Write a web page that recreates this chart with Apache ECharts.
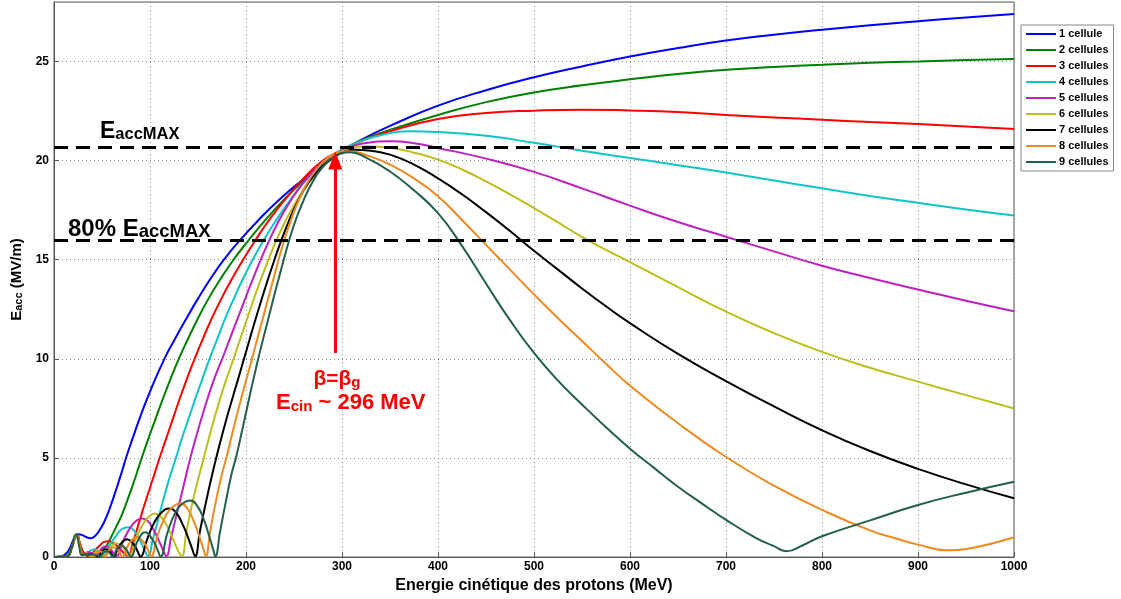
<!DOCTYPE html>
<html><head><meta charset="utf-8">
<script src="https://cdn.jsdelivr.net/npm/echarts@6/dist/echarts.min.js"></script>
<style>html,body{margin:0;padding:0;background:#fff}#c{width:1121px;height:599px}</style>
</head><body><div id="c"></div>
<script>
const seriesNames = ['1 cellule','2 cellules','3 cellules','4 cellules','5 cellules','6 cellules','7 cellules','8 cellules','9 cellules'];
const seriesColors = ['#0000ff','#008000','#ff0000','#10c4c4','#c020c0','#bebe1a','#000000','#ee8a1f','#23604a'];

const cell1 = [[0,0],[8,0.05],[13,0.2],[17,0.5],[21,0.95],[25,1.15],[29,1.12],[33,1.02],[38,0.95],[43,1.08],[48,1.4],[53,1.85],[58,2.45],[64,3.3],[70,4.2],[75,5.0],[82,6.0],[90,7.1],[100,8.35],[115,10],[126,11],[137.5,12],[149.5,13],[162.5,14],[177,15],[194,16],[213,17],[234,18],[258,19],[284,20],[296,20.4],[320,21.05],[350,21.75],[400,22.77],[450,23.55],[500,24.2],[550,24.75],[600,25.25],[650,25.68],[700,26.06],[750,26.35],[800,26.6],[850,26.83],[900,27.03],[950,27.22],[1000,27.4]];
const cell2 = [[0,0],[12,0.05],[17,0.35],[20,0.75],[23,1.1],[26,0.8],[30,0.3],[34,0.12],[40,0.12],[46,0.2],[50,0.35],[55,0.6],[60,1.05],[65,1.55],[70,2.05],[74,2.55],[80,3.35],[85,4.05],[91,4.95],[98.5,6],[106,7],[113.5,8],[121.5,9],[130,10],[139.5,11],[149.5,12],[160.5,13],[173,14],[187,15],[203,16],[220,17],[239,18],[260,19],[284,20],[296,20.4],[320,21.02],[350,21.55],[400,22.3],[450,22.95],[500,23.44],[550,23.8],[600,24.1],[650,24.37],[700,24.58],[750,24.72],[800,24.83],[850,24.93],[900,25.0],[950,25.07],[1000,25.12]];
const cell3 = [[0,0],[14,0.05],[18,0.4],[22,1.0],[24,1.1],[27,0.7],[31,0.2],[36,0.05],[42,0.3],[48,0.6],[53,0.78],[57,0.8],[62,0.7],[67,0.5],[72,0.25],[77,0.05],[82,0.7],[88,1.65],[94,2.6],[100,3.5],[105,4.25],[110,5],[117,6],[124,7],[131,8],[138.5,9],[146.5,10],[155,11],[164,12],[174,13],[185,14],[197,15],[210,16],[224,17],[240,18],[258,19],[280,20],[296,20.42],[320,20.98],[350,21.48],[400,22.1],[450,22.4],[500,22.52],[550,22.57],[600,22.53],[650,22.45],[700,22.3],[750,22.18],[800,22.06],[850,21.95],[900,21.85],[950,21.72],[1000,21.6]];
const cell4 = [[0,0],[14,0.05],[18,0.4],[22,1.0],[24,1.1],[27,0.6],[31,0.1],[36,0.25],[42,0.4],[47,0.25],[51,0.05],[58,0.6],[65,1.1],[72,1.45],[78,1.5],[84,1.3],[89,0.9],[94,0.4],[98,0.05],[103,0.9],[109,2.0],[115,3.1],[121,4.1],[127,5.0],[134,6.1],[141,7.1],[148,8.1],[155,9.05],[162,10],[170,11],[178,12],[187,13],[196.5,14],[207,15],[218.5,16],[231.5,17],[246,18],[262,19],[282,20],[296,20.45],[315,20.9],[340,21.28],[370,21.48],[400,21.44],[450,21.25],[500,20.9],[550,20.5],[600,20.13],[650,19.77],[700,19.4],[750,19.0],[800,18.6],[850,18.22],[900,17.87],[950,17.53],[1000,17.23]];
const cell5 = [[0,0],[14,0.05],[18,0.4],[22,1.0],[24,1.1],[27,0.6],[30,0.1],[35,0.25],[39,0.2],[43,0.05],[49,0.4],[54,0.55],[59,0.4],[65,0.05],[72,0.8],[79,1.45],[86,1.85],[92,1.95],[98,1.8],[104,1.35],[110,0.75],[114,0.3],[117,0.05],[122,1.0],[128,2.2],[135,3.6],[142,5.0],[150,6.4],[158,7.7],[167,9.0],[176,10.1],[183.5,11.05],[191,12],[198.5,12.95],[206.5,13.95],[214.5,14.9],[223,15.85],[232.5,16.8],[243.5,17.75],[256,18.65],[270,19.45],[285,20.1],[296,20.4],[320,20.85],[350,20.97],[375,20.88],[400,20.64],[450,20.1],[500,19.43],[550,18.6],[600,17.73],[650,16.9],[700,16.16],[750,15.42],[800,14.7],[850,14.08],[900,13.5],[950,12.93],[1000,12.4]];
const cell6 = [[0,0],[14,0.05],[18,0.4],[22,1.0],[24,1.1],[27,0.6],[30,0.1],[34,0.2],[38,0.05],[42,0.2],[45,0.3],[49,0.2],[53,0.05],[58,0.45],[65,0.7],[71,0.55],[75,0.25],[78,0.05],[85,0.9],[92,1.6],[99,2.05],[105,2.2],[111,2.05],[118,1.55],[124,0.9],[129,0.35],[133,0.05],[138,1.3],[144,2.7],[150,3.9],[156,5.0],[163,6.3],[170,7.5],[178,8.75],[187,10],[194,11],[201,12],[208,13],[215,13.95],[222.5,14.9],[230.5,15.85],[239.5,16.8],[249.5,17.7],[261,18.6],[274,19.4],[288,20.05],[296,20.35],[310,20.62],[325,20.73],[350,20.65],[375,20.4],[400,20.05],[425,19.55],[450,18.95],[475,18.3],[500,17.6],[525,16.88],[550,16.15],[575,15.5],[600,14.88],[650,13.62],[700,12.38],[750,11.3],[800,10.35],[850,9.55],[900,8.85],[950,8.17],[1000,7.5]];
const cell7 = [[0,0],[14,0.05],[18,0.4],[22,1.0],[24,1.1],[27,0.6],[30,0.1],[34,0.15],[38,0.15],[42,0.1],[46,0.03],[50,0.3],[54,0.4],[58,0.3],[62,0.03],[68,0.55],[76,0.9],[83,0.65],[87,0.3],[90,0.03],[97,0.9],[104,1.7],[112,2.25],[120,2.45],[127,2.25],[134,1.65],[140,0.95],[144,0.4],[147,0.05],[152,1.3],[158,2.7],[164,4.0],[170,5.2],[177,6.5],[184,7.7],[191,8.85],[197,9.85],[203,10.85],[209,11.85],[215.3,12.85],[221.8,13.85],[228.6,14.85],[235.8,15.85],[243.8,16.85],[253,17.85],[264.5,18.85],[278,19.65],[291.5,20.15],[300,20.4],[312,20.55],[330,20.5],[350,20.3],[375,19.8],[400,19.1],[425,18.3],[450,17.4],[475,16.45],[500,15.45],[525,14.5],[550,13.55],[575,12.65],[600,11.8],[650,10.25],[700,8.88],[750,7.6],[800,6.4],[850,5.35],[900,4.45],[950,3.67],[1000,2.97]];
const cell8 = [[0,0],[14,0.05],[18,0.4],[22,1.0],[24,1.1],[27,0.6],[30,0.1],[34,0.15],[37,0.1],[41,0.03],[45,0.25],[48,0.3],[51,0.2],[53,0.03],[58,0.4],[62,0.5],[67,0.35],[71,0.03],[78,0.65],[86,1.0],[94,0.7],[98,0.35],[101,0.03],[108,1.1],[116,2.05],[124,2.55],[132,2.7],[139,2.45],[146,1.75],[152,0.95],[156,0.35],[158,0.05],[163,1.4],[169,2.9],[175,4.2],[180,5.1],[186,6.3],[192,7.45],[198,8.55],[204,9.6],[209.5,10.6],[214.5,11.5],[219.5,12.4],[224.5,13.3],[229.5,14.2],[234.5,15.1],[240,16],[246.5,16.95],[254,17.9],[263,18.8],[274,19.6],[287,20.2],[298,20.45],[307,20.47],[330,20.2],[350,19.8],[375,19.1],[400,18.2],[425,17.0],[450,15.75],[475,14.5],[500,13.25],[525,12.05],[550,10.9],[575,9.75],[600,8.65],[650,6.75],[700,5.05],[750,3.6],[800,2.38],[850,1.35],[880,0.9],[900,0.63],[930,0.35],[960,0.5],[1000,1.0]];
const cell9 = [[0,0],[14,0.05],[18,0.4],[21,1.0],[23,1.15],[26,0.6],[29,0.1],[33,0.15],[36,0.1],[40,0.15],[44,0.1],[48,0.03],[52,0.25],[55,0.3],[58,0.2],[61,0.03],[66,0.45],[70,0.6],[75,0.4],[80,0.03],[87,0.8],[95,1.25],[103,0.85],[108,0.35],[111,0.03],[118,1.2],[126,2.2],[134,2.7],[142,2.85],[149,2.6],[156,1.9],[162,1.0],[166,0.35],[168,0.05],[173,1.3],[179,2.8],[185,4.2],[190,5.1],[196,6.4],[201,7.5],[206,8.6],[211,9.65],[216,10.65],[221,11.6],[226,12.55],[231,13.5],[236,14.4],[241,15.3],[246,16.15],[252.5,17.1],[260,18.0],[268.5,18.85],[278.5,19.6],[290,20.12],[300,20.38],[308,20.42],[325,20.15],[350,19.45],[375,18.5],[400,17.35],[425,15.7],[450,13.8],[475,11.95],[500,10.3],[525,8.9],[550,7.7],[575,6.55],[600,5.47],[625,4.5],[650,3.55],[675,2.7],[700,1.88],[730,1.0],[750,0.55],[763,0.3],[780,0.6],[800,1.05],[850,1.85],[900,2.63],[950,3.25],[1000,3.8]];
const allCells = [cell1,cell2,cell3,cell4,cell5,cell6,cell7,cell8,cell9];

const eaccMax = 20.65;
const eacc80 = 16.0;
const betaG = 293;
const arrowFrom = 10.3;
const arrowTo = 20.0;

const FF = '"Liberation Sans", Arial, sans-serif';
const chart = echarts.init(document.getElementById('c'), null, {renderer:'canvas'});

const series = allCells.map((d,i)=>({
  name: seriesNames[i], type:'line', data:d, showSymbol:false, smooth:0.5,
  lineStyle:{width:2, color:seriesColors[i]}, itemStyle:{color:seriesColors[i]}, z:2, silent:true
}));
series.push({
  name:'_ann', type:'line', data:[], z:5, silent:true,
  markLine:{
    silent:true, symbol:['none','none'], label:{show:false},
    lineStyle:{color:'#000', width:3, type:[14,8]},
    data:[{yAxis:eaccMax},{yAxis:eacc80}]
  }
});
series.push({
  name:'_arrow', type:'line', data:[], z:6, silent:true,
  markLine:{
    silent:true, symbol:['none','triangle'], symbolSize:[14,18], label:{show:false},
    lineStyle:{color:'#ff0000', width:3, type:'solid'},
    data:[[{coord:[betaG,arrowFrom]},{coord:[betaG,arrowTo]}]]
  }
});

chart.setOption({
  animation:false,
  backgroundColor:'#fff',
  textStyle:{fontFamily:FF},
  grid:{left:54, right:107, top:2, bottom:38, show:true, borderColor:'#555', borderWidth:1, backgroundColor:'transparent'},
  legend:{
    data:seriesNames, orient:'vertical', left:1021, top:25,
    icon:'rect', itemWidth:30, itemHeight:2, itemGap:0,
    padding:[1,5,1,5], backgroundColor:'#fff', borderColor:'#888', borderWidth:1,
    textStyle:{fontSize:11, fontWeight:'bold', color:'#000', lineHeight:16, fontFamily:FF, padding:[0,0,0,-2]},
    selectedMode:false
  },
  xAxis:{
    type:'value', min:0, max:1000, interval:100,
    name:'Energie cinétique des protons (MeV)', nameLocation:'middle', nameGap:14,
    nameTextStyle:{fontSize:16, fontWeight:'bold', color:'#000', fontFamily:FF},
    axisLine:{lineStyle:{color:'#555'}},
    axisTick:{inside:true, length:5, lineStyle:{color:'#555'}},
    axisLabel:{fontSize:12, fontWeight:'bold', color:'#000', margin:4, fontFamily:FF, formatter:(v)=>String(v)},
    splitLine:{show:true, lineStyle:{color:'#888', type:[1,3], width:1}}
  },
  yAxis:{
    type:'value', min:0, max:28, interval:5,
    name:'{e|E}{s|acc}{e| (MV/m)}', nameLocation:'middle', nameGap:30, nameRotate:90,
    nameTextStyle:{color:'#000', fontFamily:FF, rich:{
      e:{fontSize:15, fontWeight:'bold', color:'#000', fontFamily:FF, lineHeight:22, verticalAlign:'bottom'},
      s:{fontSize:11, fontWeight:'bold', color:'#000', fontFamily:FF, lineHeight:12, verticalAlign:'bottom'}
    }},
    axisLine:{show:true, lineStyle:{color:'#555'}},
    axisTick:{show:true, inside:true, length:5, lineStyle:{color:'#555'}},
    axisLabel:{fontSize:12, fontWeight:'bold', color:'#000', margin:5, showMaxLabel:false, fontFamily:FF, formatter:(v)=>String(v)},
    splitLine:{show:true, lineStyle:{color:'#888', type:[1,3], width:1}}
  },
  graphic:[
    {type:'text', x:100, y:128, z:10, silent:true, style:{
      text:'{a|E}{b|accMAX}', verticalAlign:'middle', fill:'#000',
      rich:{a:{fontSize:23, fontWeight:'bold', fontFamily:FF, lineHeight:30, verticalAlign:'bottom', fill:'#000'},
            b:{fontSize:16.5, fontWeight:'bold', fontFamily:FF, lineHeight:14.6, verticalAlign:'bottom', fill:'#000'}}
    }},
    {type:'text', x:68, y:226, z:10, silent:true, style:{
      text:'{a|80% E}{b|accMAX}', verticalAlign:'middle', fill:'#000',
      rich:{a:{fontSize:24, fontWeight:'bold', fontFamily:FF, lineHeight:30, verticalAlign:'bottom', fill:'#000'},
            b:{fontSize:18.5, fontWeight:'bold', fontFamily:FF, lineHeight:14, verticalAlign:'bottom', fill:'#000'}}
    }},
    {type:'text', x:337, y:375, z:10, silent:true, style:{
      text:'{a|β=β}{b|g}', align:'center', verticalAlign:'middle', fill:'#ff0000',
      rich:{a:{fontSize:21, fontWeight:'bold', fontFamily:FF, lineHeight:30, verticalAlign:'bottom', fill:'#ff0000'},
            b:{fontSize:15, fontWeight:'bold', fontFamily:FF, lineHeight:18, verticalAlign:'bottom', fill:'#ff0000'}}
    }},
    {type:'text', x:276, y:399, z:10, silent:true, style:{
      text:'{a|E}{b|cin}{a| ~ 296 MeV}', verticalAlign:'middle', fill:'#ff0000',
      rich:{a:{fontSize:22, fontWeight:'bold', fontFamily:FF, lineHeight:30, verticalAlign:'bottom', fill:'#ff0000'},
            b:{fontSize:15, fontWeight:'bold', fontFamily:FF, lineHeight:17, verticalAlign:'bottom', fill:'#ff0000'}}
    }}
  ],
  series:series
});
</script></body></html>
